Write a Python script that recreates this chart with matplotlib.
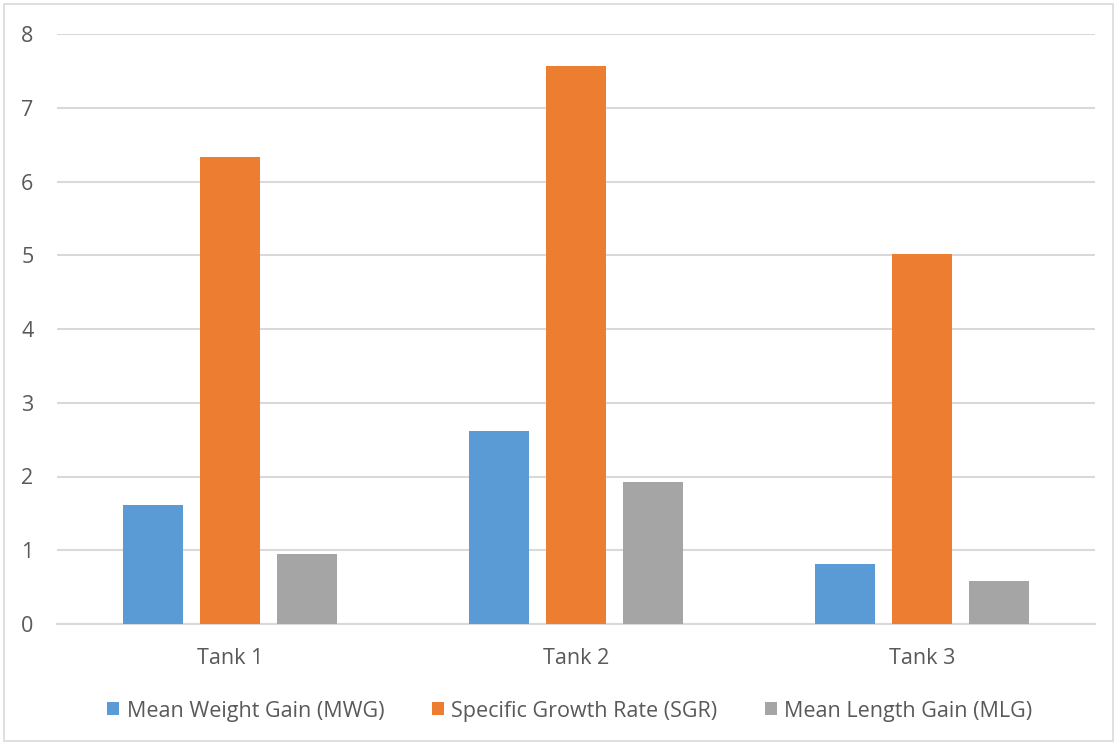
import numpy as np
import matplotlib.pyplot as plt
from matplotlib.patches import Rectangle

# growth data per tank
tanks = ["Tank 1", "Tank 2", "Tank 3"]
mwg = [1.62, 2.62, 0.81]
sgr = [6.33, 7.57, 5.02]
mlg = [0.95, 1.93, 0.58]

series = [
    ("Mean Weight Gain (MWG)", mwg, "#5b9bd5"),
    ("Specific Growth Rate (SGR)", sgr, "#ed7d31"),
    ("Mean Length Gain (MLG)", mlg, "#a5a5a5"),
]

plt.rcParams['font.family'] = ['Open Sans', 'DejaVu Sans']
text_col = "#595959"
grid_col = "#d9d9d9"
fs = 15.5

fig = plt.figure(figsize=(11.2, 7.45), dpi=100)
ax = fig.add_axes([57 / 1120, 121 / 745, 1038 / 1120, 590 / 745])

x = np.arange(len(tanks))
width = 0.173
step = 0.2225
for i, (label, vals, col) in enumerate(series):
    ax.bar(x + (i - 1) * step, vals, width, color=col, label=label, zorder=3)

ax.set_xlim(-0.5, 2.5)
ax.set_ylim(0, 8)
ax.set_yticks(range(0, 9))
ax.set_xticks(x)
ax.set_xticklabels(tanks)
ax.yaxis.grid(True, color=grid_col, linewidth=1.5, zorder=0)
for side in ["top", "right", "left"]:
    ax.spines[side].set_visible(False)
ax.spines["bottom"].set_color(grid_col)
ax.spines["bottom"].set_linewidth(1.5)
ax.tick_params(axis="both", length=0, labelsize=fs, colors=text_col)
ax.tick_params(axis="y", pad=17)
ax.tick_params(axis="x", pad=17)

leg = fig.legend(loc="center", bbox_to_anchor=(570 / 1120, 1 - 711 / 745),
                 ncol=3, frameon=False, fontsize=fs, handlelength=0.56,
                 handleheight=0.56, handletextpad=0.35, columnspacing=2.2)
for t in leg.get_texts():
    t.set_color(text_col)

# chart border
fig.patches.append(Rectangle((4 / 1120, 4 / 745), 1109 / 1120, 737 / 745,
                             transform=fig.transFigure, fill=False,
                             edgecolor=grid_col, linewidth=1.2))

plt.savefig("out.png", dpi=100)
